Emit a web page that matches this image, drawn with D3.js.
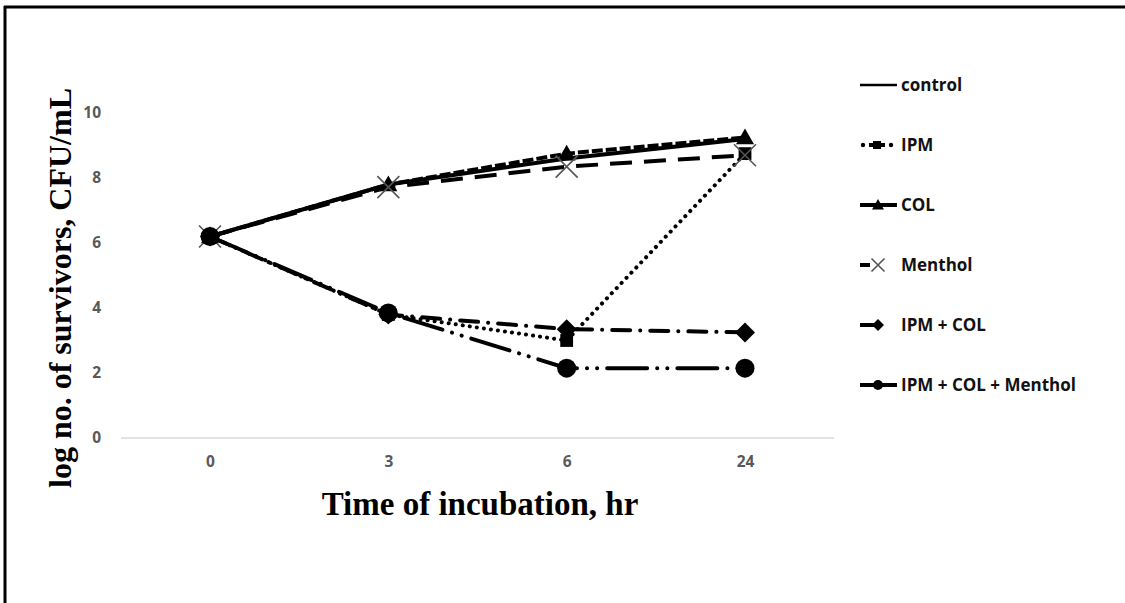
<!DOCTYPE html>
<html>
<head>
<meta charset="utf-8">
<script src="https://cdn.jsdelivr.net/npm/d3@7"></script>
<style>
  body { margin: 0; background: #fff; }
  svg { display: block; }
</style>
</head>
<body>
<div id="chart"></div>
<script>

var times = ['0', '3', '6', '24'];
var yTicks = [0, 2, 4, 6, 8, 10];
var seriesNames = ['control', 'IPM', 'COL', 'Menthol', 'IPM + COL', 'IPM + COL + Menthol'];

var control       = [6.2, 7.8, 8.6, 9.2];
var ipm           = [6.2, 3.8, 3.0, 8.75];
var col           = [6.2, 7.8, 8.75, 9.25];
var menthol       = [6.2, 7.72, 8.35, 8.7];
var ipmCol        = [6.2, 3.8, 3.35, 3.25];
var ipmColMenthol = [6.2, 3.85, 2.15, 2.15];

var values = [control, ipm, col, menthol, ipmCol, ipmColMenthol];

// line / marker look for each series, same order as seriesNames
var styles = [
   { dash: null,                     cap: 'butt',  marker: 'none' },
   { dash: '0.1,7',                  cap: 'round', marker: 'square' },
   { dash: '11,3',                   cap: 'butt',  marker: 'triangle' },
   { dash: '22,12',                  cap: 'butt',  marker: 'cross' },
   { dash: '18,10,0.1,10',           cap: 'round', marker: 'diamond' },
   { dash: '40,10,0.1,10,0.1,10',    cap: 'round', marker: 'circle' }
];

var width = 1125, height = 603;

var svg = d3.select('#chart').append('svg')
    .attr('width', width)
    .attr('height', height);

// frame (only top and left edges show in the picture)
svg.append('line').attr('x1', 4).attr('x2', width).attr('y1', 7).attr('y2', 7)
    .attr('stroke', '#000').attr('stroke-width', 3);
svg.append('line').attr('x1', 5).attr('x2', 5).attr('y1', 6).attr('y2', height)
    .attr('stroke', '#000').attr('stroke-width', 3);

var x = d3.scalePoint()
    .domain(times)
    .range([210, 745]);

var y = d3.scaleLinear()
    .domain([0, 10])
    .range([438, 113]);

// baseline
svg.append('line')
    .attr('x1', 121).attr('x2', 834)
    .attr('y1', y(0)).attr('y2', y(0))
    .attr('stroke', '#d9d9d9').attr('stroke-width', 1.3);

var tickFont = function(sel){
   sel.attr('font-family', '"Open Sans", sans-serif')
      .attr('font-weight', 'bold')
      .attr('font-size', '15.5px')
      .attr('fill', '#595959');
};

var yAxis = svg.append('g')
    .attr('transform', 'translate(101,0)')
    .call(d3.axisLeft(y).tickValues(yTicks).tickSize(0).tickPadding(0));
yAxis.select('.domain').remove();
yAxis.selectAll('text').call(tickFont);

var xAxis = svg.append('g')
    .attr('transform', 'translate(0,' + 456 + ')')
    .call(d3.axisBottom(x).tickSize(0).tickPadding(0));
xAxis.select('.domain').remove();
xAxis.selectAll('text').call(tickFont);

// axis titles
svg.append('text')
    .attr('x', 480).attr('y', 515)
    .attr('text-anchor', 'middle')
    .attr('font-family', '"Liberation Serif", "Times New Roman", serif')
    .attr('font-weight', 'bold')
    .attr('font-size', '33px')
    .attr('fill', '#000')
    .text('Time of incubation, hr');

svg.append('text')
    .attr('transform', 'translate(71,288) rotate(-90)')
    .attr('text-anchor', 'middle')
    .attr('font-family', '"Liberation Serif", "Times New Roman", serif')
    .attr('font-weight', 'bold')
    .attr('font-size', '32px')
    .attr('fill', '#000')
    .text('log no. of survivors, CFU/mL');

function drawMarker(g, type, cx, cy, s) {
   if (type === 'circle') {
      g.append('circle').attr('cx', cx).attr('cy', cy).attr('r', s)
          .attr('fill', '#000');
   } else if (type === 'square') {
      g.append('rect').attr('x', cx - s * 0.8).attr('y', cy - s * 0.8)
          .attr('width', s * 1.6).attr('height', s * 1.6).attr('fill', '#000');
   } else if (type === 'triangle') {
      g.append('path')
          .attr('d', 'M' + cx + ',' + (cy - s) + 'L' + (cx + s) + ',' + (cy + s * 0.75) +
                     'L' + (cx - s) + ',' + (cy + s * 0.75) + 'Z')
          .attr('fill', '#000');
   } else if (type === 'diamond') {
      g.append('path')
          .attr('d', 'M' + cx + ',' + (cy - s) + 'L' + (cx + s) + ',' + cy +
                     'L' + cx + ',' + (cy + s) + 'L' + (cx - s) + ',' + cy + 'Z')
          .attr('fill', '#000');
   } else if (type === 'cross') {
      g.append('path')
          .attr('d', 'M' + (cx - s) + ',' + (cy - s) + 'L' + (cx + s) + ',' + (cy + s) +
                     'M' + (cx + s) + ',' + (cy - s) + 'L' + (cx - s) + ',' + (cy + s))
          .attr('stroke', '#555').attr('stroke-width', 1.6).attr('fill', 'none');
   }
}

var line = d3.line()
    .x(function(d, i){ return x(times[i]); })
    .y(function(d){ return y(d); });

var markerSize = { square: 8, triangle: 9, diamond: 10, cross: 11, circle: 9.5 };

var plot = svg.append('g').attr('class', 'series');

values.forEach(function(vals, k){
   var st = styles[k];
   var g = plot.append('g');
   g.append('path')
       .attr('d', line(vals))
       .attr('fill', 'none')
       .attr('stroke', '#000')
       .attr('stroke-width', 4)
       .attr('stroke-linecap', st.cap)
       .attr('stroke-dasharray', st.dash);
   vals.forEach(function(v, i){
      drawMarker(g, st.marker, x(times[i]), y(v), markerSize[st.marker] || 0);
   });
});

// legend
var legend = svg.append('g').attr('class', 'legend');

seriesNames.forEach(function(name, k){
   var st = styles[k];
   var ly = 85 + k * 60;
   var g = legend.append('g');
   if (st.marker === 'square') {
      g.append('circle').attr('cx', 863).attr('cy', ly).attr('r', 2.2).attr('fill', '#000');
      g.append('circle').attr('cx', 891).attr('cy', ly).attr('r', 2.2).attr('fill', '#000');
      g.append('line').attr('x1', 869).attr('x2', 885).attr('y1', ly).attr('y2', ly)
          .attr('stroke', '#000').attr('stroke-width', 4);
      drawMarker(g, 'square', 877, ly, 5);
   } else if (st.marker === 'cross') {
      g.append('line').attr('x1', 860).attr('x2', 870).attr('y1', ly).attr('y2', ly)
          .attr('stroke', '#000').attr('stroke-width', 4);
      drawMarker(g, 'cross', 878, ly, 6.5);
   } else if (st.marker === 'diamond') {
      g.append('line').attr('x1', 860).attr('x2', 876).attr('y1', ly).attr('y2', ly)
          .attr('stroke', '#000').attr('stroke-width', 4);
      drawMarker(g, 'diamond', 878, ly, 6);
   } else {
      g.append('line').attr('x1', 860).attr('x2', 897).attr('y1', ly).attr('y2', ly)
          .attr('stroke', '#000').attr('stroke-width', st.marker === 'none' ? 2.5 : 4);
      if (st.marker !== 'none') drawMarker(g, st.marker, 878, ly, st.marker === 'circle' ? 5 : 6);
   }
   g.append('text')
       .attr('x', 901).attr('y', ly)
       .attr('dy', '0.35em')
       .attr('font-family', '"Open Sans", sans-serif')
       .attr('font-weight', 'bold')
       .attr('font-size', '17px')
       .attr('fill', '#111')
       .text(name);
});

</script>
</body>
</html>
